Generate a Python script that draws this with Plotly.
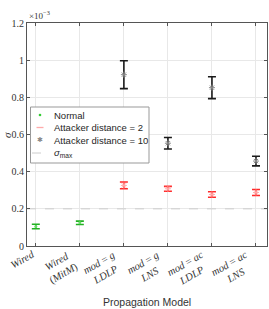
import plotly.graph_objects as go

categories = ["<i>Wired</i>", "<i>Wired</i><br>(<i>MitM</i>)",
              "<i>mod</i> = <i>g</i><br><i>LDLP</i>", "<i>mod</i> = <i>g</i><br><i>LNS</i>",
              "<i>mod</i> = <i>ac</i><br><i>LDLP</i>", "<i>mod</i> = <i>ac</i><br><i>LNS</i>"]
x_pos = [1, 2, 3, 4, 5, 6]

# sigma values in units of 1e-3
normal_x = [1, 2]
normal_mean = [0.105, 0.125]
normal_err = [0.012, 0.009]

att2_x = [3, 4, 5, 6]
att2_mean = [0.326, 0.308, 0.277, 0.288]
att2_err = [0.018, 0.013, 0.015, 0.016]

att10_x = [3, 4, 5, 6]
att10_mean = [0.922, 0.553, 0.852, 0.457]
att10_err = [0.075, 0.031, 0.059, 0.026]

sigma_max = 0.2
y_ticks = [0, 0.2, 0.4, 0.6, 0.8, 1, 1.2]
y_ticktext = ["0", "0.2", "0.4", "0.6", "0.8", "1", "1.2"]

legend_names = ["Normal", "Attacker distance = 2", "Attacker distance = 10", "<i>σ</i><sub>max</sub>"]

serif = "Liberation Serif"
sans = "Liberation Sans"

W, H = 269, 309
L, R, T, B = 27, 2, 23, 63
PW, PH = W - L - R, H - T - B


def px(x):
    return (x - L) / PW


def py(y):
    return (H - B - y) / PH


fig = go.Figure()
fig.add_trace(go.Scatter(
    x=normal_x, y=normal_mean, mode="markers", name=legend_names[0], showlegend=False,
    marker=dict(symbol="circle", size=3, color="#66dd66"),
    error_y=dict(type="data", array=normal_err, color="#22b022", thickness=1.6, width=4)))
fig.add_trace(go.Scatter(
    x=att2_x, y=att2_mean, mode="markers", name=legend_names[1], showlegend=False,
    marker=dict(symbol="asterisk-open", size=5, color="#ffaaaa", line=dict(color="#ffaaaa", width=1)),
    error_y=dict(type="data", array=att2_err, color="#ff2a2a", thickness=1.6, width=4)))
fig.add_trace(go.Scatter(
    x=att10_x, y=att10_mean, mode="markers", name=legend_names[2], showlegend=False,
    marker=dict(symbol="asterisk-open", size=5, color="#888888", line=dict(color="#888888", width=1)),
    error_y=dict(type="data", array=att10_err, color="#1a1a1a", thickness=1.6, width=4)))
fig.add_trace(go.Scatter(
    x=[0.8, 6.25], y=[sigma_max, sigma_max], mode="lines", name=legend_names[3], showlegend=False,
    line=dict(color="#cccccc", width=1, dash="dash")))

shapes = []
annotations = []

# x tick labels as rotated annotations
for xv, lab in zip(x_pos, categories):
    annotations.append(dict(
        text=lab, x=xv, y=0, xref="x", yref="y", xanchor="right", yanchor="top",
        xshift=3, yshift=0, textangle=-30, showarrow=False, align="center",
        font=dict(family=serif, size=10.5, color="#333")))

# custom legend
lx0, lx1, ly0, ly1 = 30.5, 149, 107, 163
shapes.append(dict(type="rect", xref="paper", yref="paper",
                   x0=px(lx0), x1=px(lx1), y0=py(ly1), y1=py(ly0),
                   line=dict(color="#999999", width=1), fillcolor="white", layer="above"))
rows = [115, 127.5, 140, 153]
sym_x = 40
for name, ry in zip(legend_names, rows):
    annotations.append(dict(text=name, x=px(52), y=py(ry), xref="paper", yref="paper",
                            xanchor="left", yanchor="middle", showarrow=False,
                            font=dict(family=sans, size=9.5, color="#262626")))
shapes.append(dict(type="circle", xref="paper", yref="paper",
                   x0=px(sym_x - 1.3), x1=px(sym_x + 1.3), y0=py(rows[0] + 1.3), y1=py(rows[0] - 1.3),
                   fillcolor="#33cc33", line=dict(width=0), layer="above"))
shapes.append(dict(type="line", xref="paper", yref="paper",
                   x0=px(36.5), x1=px(43.5), y0=py(rows[1]), y1=py(rows[1]),
                   line=dict(color="#ffaaaa", width=1.3), layer="above"))
annotations.append(dict(text="✱", x=px(sym_x), y=py(rows[2]), xref="paper", yref="paper",
                        xanchor="center", yanchor="middle", showarrow=False,
                        font=dict(family="DejaVu Sans", size=7, color="#888888")))
shapes.append(dict(type="line", xref="paper", yref="paper",
                   x0=px(32), x1=px(47), y0=py(rows[3]), y1=py(rows[3]),
                   line=dict(color="#cccccc", width=1, dash="dash"), layer="above"))

annotations += [
    dict(text="×10<sup>−3</sup>", x=0, y=1, xref="paper", yref="paper",
         xanchor="left", yanchor="bottom", showarrow=False,
         font=dict(family=serif, size=9, color="#333")),
    dict(text="Propagation Model", x=0.5, y=py(302), xref="paper", yref="paper",
         xanchor="center", yanchor="middle", showarrow=False,
         font=dict(family=sans, size=10.5, color="#333")),
    dict(text="<i>σ</i>", x=px(7), y=py(135), xref="paper", yref="paper",
         xanchor="center", yanchor="middle", showarrow=False, textangle=-90,
         font=dict(family=serif, size=11, color="#333")),
]

fig.update_layout(
    width=W, height=H,
    margin=dict(l=L, r=R, t=T, b=B, autoexpand=False),
    paper_bgcolor="white", plot_bgcolor="white",
    showlegend=False,
    xaxis=dict(range=[0.8, 6.25], tickvals=x_pos, showticklabels=False, automargin=False,
               showgrid=True, gridcolor="#e8e8e8", gridwidth=1,
               showline=True, linecolor="#555", linewidth=1, mirror="ticks",
               ticks="inside", ticklen=3, tickcolor="#555", zeroline=False),
    yaxis=dict(range=[0, 1.2], tickvals=y_ticks, ticktext=y_ticktext, automargin=False,
               tickfont=dict(family=serif, size=10, color="#333"),
               showgrid=True, gridcolor="#e8e8e8", gridwidth=1,
               showline=True, linecolor="#555", linewidth=1, mirror="ticks",
               ticks="inside", ticklen=3, tickcolor="#555", zeroline=False),
    shapes=shapes,
    annotations=annotations,
)

fig.write_html("out.html", config={"displayModeBar": False},
               post_script="document.body.style.margin='0';document.body.style.overflow='hidden';")
